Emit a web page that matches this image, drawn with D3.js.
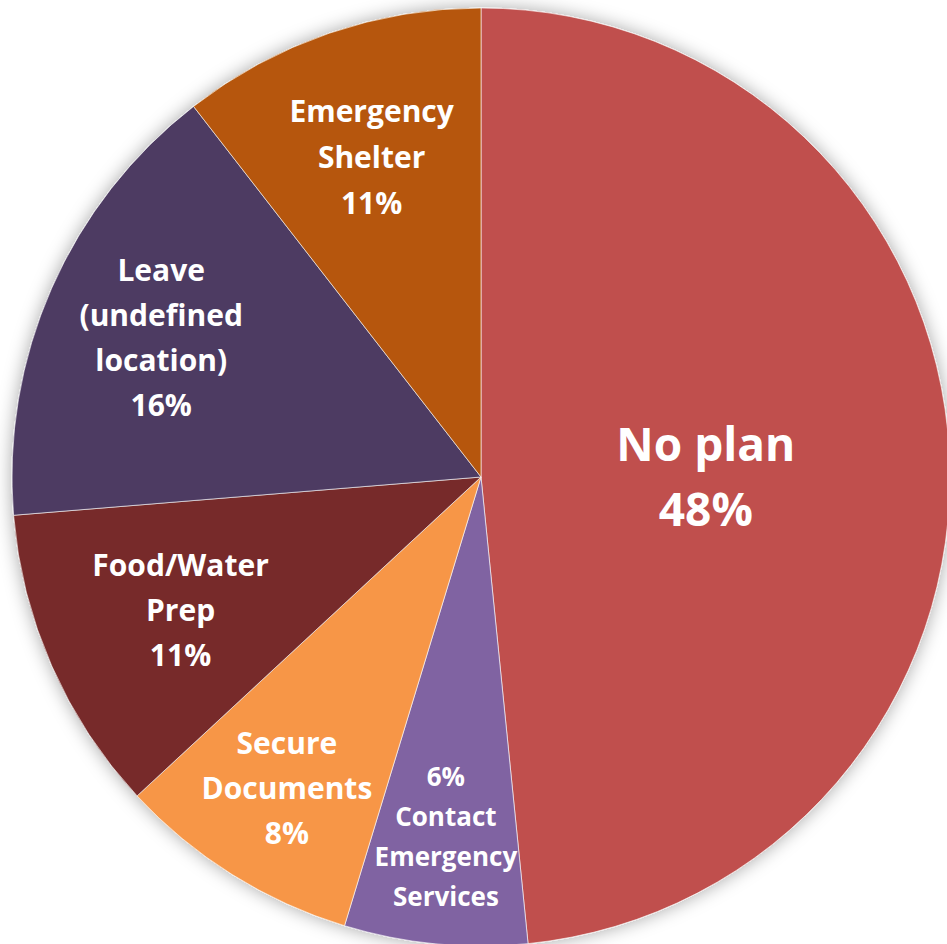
<!DOCTYPE html>
<html>
<head>
<meta charset="utf-8" />
<title>Emergency plans</title>
<script src="https://d3js.org/d3.v7.min.js"></script>
<style>
  body { margin: 0; background: #fff; }
  text { font-family: "Open Sans", "Lato", sans-serif; font-weight: bold; fill: #fff; }
</style>
</head>
<body>
<div id="chart"></div>
<script>
    // slices clockwise from 12 o'clock
    const categories = ["No plan", "Contact Emergency Services", "Secure Documents", "Food/Water Prep", "Leave (undefined location)", "Emergency Shelter"]
    const values = [48.4, 6.3, 8.4, 10.6, 15.8, 10.5]
    const pctLabels = ["48%", "6%", "8%", "11%", "16%", "11%"]
    const labelLines = [
        ["No plan", "48%"],
        ["6%", "Contact", "Emergency", "Services"],
        ["Secure", "Documents", "8%"],
        ["Food/Water", "Prep", "11%"],
        ["Leave", "(undefined", "location)", "16%"],
        ["Emergency", "Shelter", "11%"]
    ]
    const colors = ["#C0504D", "#8064A2", "#F79646", "#772C2A", "#4D3B62", "#B65708"]

    const width = 947, height = 944
    const cx = 481, cy = 477, radius = 469

    const svg = d3.select("#chart")
                    .append("svg")
                        .attr("width", width)
                        .attr("height", height)

    const defs = svg.append("defs")
    const shadow = defs.append("filter")
                        .attr("id", "shadow")
                        .attr("x", "-10%").attr("y", "-10%")
                        .attr("width", "120%").attr("height", "120%")
    shadow.append("feDropShadow")
            .attr("dx", 0).attr("dy", 0)
            .attr("stdDeviation", 9)
            .attr("flood-color", "#000")
            .attr("flood-opacity", 0.35)

    const g = svg.append("g")
                    .attr("transform", `translate(${cx},${cy})`)

    const pie = d3.pie().sort(null).value(d => d)
    const arcs = pie(values)

    const arc = d3.arc().innerRadius(0).outerRadius(radius)

    g.append("g")
        .attr("filter", "url(#shadow)")
        .selectAll("path")
        .data(arcs)
        .join("path")
            .attr("d", arc)
            .attr("fill", (d, i) => colors[i])
            .attr("stroke", "rgba(255,255,255,0.6)")
            .attr("stroke-width", 1)

    // label distance as a share of the radius, text size and line spacing per slice
    const labelRadius = [0.48, 0.77, 0.78, 0.70, 0.745, 0.72]
    const labelNudge = [10, 0, 0, 0, 0, -2]
    const fontSize = [46, 26, 30, 30, 30, 30]
    const lineGap = [65, 40, 45, 45, 45, 46]

    arcs.forEach(function(d, i) {
        const r = radius * labelRadius[i]
        const pos = d3.arc().innerRadius(r).outerRadius(r).centroid(d)
        const lines = labelLines[i]
        const t = g.append("text")
                    .attr("text-anchor", "middle")
                    .attr("dominant-baseline", "central")
                    .style("font-size", fontSize[i] + "px")
        lines.forEach(function(line, j) {
            t.append("tspan")
                .attr("x", pos[0])
                .attr("y", pos[1] + labelNudge[i] + (j - (lines.length - 1) / 2) * lineGap[i])
                .text(line)
        })
    })
</script>
</body>
</html>
